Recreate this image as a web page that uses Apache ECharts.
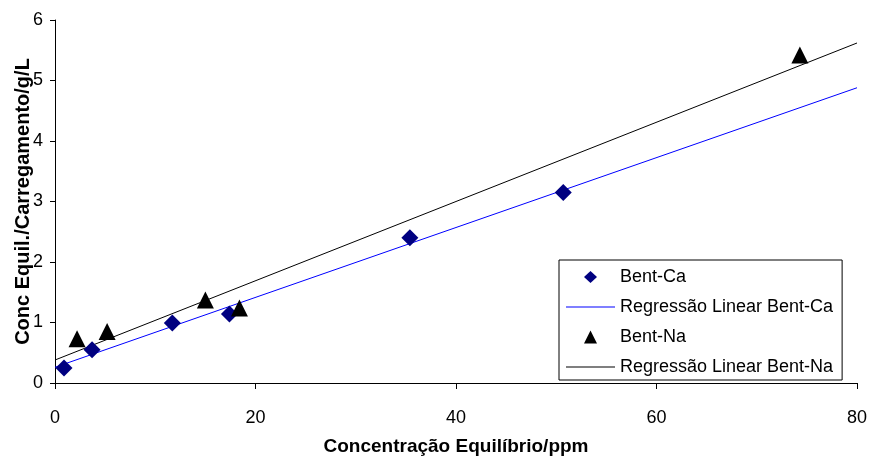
<!DOCTYPE html>
<html>
<head>
<meta charset="utf-8">
<script src="https://cdn.jsdelivr.net/npm/echarts@6/dist/echarts.min.js"></script>
<style>html,body{margin:0;padding:0;background:#fff;}#c{width:869px;height:462px;}</style>
</head>
<body>
<div id="c"></div>
<script>
const xTicks = [0, 20, 40, 60, 80];
const yTicks = [0, 1, 2, 3, 4, 5, 6];
const caX = [0.9, 3.7, 11.7, 17.4, 35.4, 50.7];
const caY = [0.25, 0.55, 0.99, 1.14, 2.40, 3.15];
const naX = [2.2, 5.2, 15.0, 18.4, 74.3];
const naY = [0.73, 0.85, 1.37, 1.24, 5.42];
const caLineX = [0, 80];
const caLineY = [0.26, 4.88];
const naLineX = [0, 80];
const naLineY = [0.38, 5.62];
const names = ['Bent-Ca', 'Regressão Linear Bent-Ca', 'Bent-Na', 'Regressão Linear Bent-Na'];
const colors = ['#000080', '#0000FF', '#000000', '#000000'];

const zip = (a, b) => a.map((v, i) => [v, b[i]]);
const font = 'Arial, "Liberation Sans", sans-serif';
// legend marker icons drawn inside a fixed 49x14 box (corner move-tos keep the box)
const box = 'path://M0,0M49,14';
const diamondIcon = box + 'M24.5,1L31,7L24.5,13L18,7Z';
const triangleIcon = box + 'M24.5,0.5L31,13.5L18,13.5Z';
const lineIcon = 'path://M0,0H49V1H0Z';

const chart = echarts.init(document.getElementById('c'), null, {renderer: 'canvas'});
chart.setOption({
  animation: false,
  backgroundColor: '#fff',
  grid: {left: 55, right: 12, top: 20, bottom: 79, containLabel: false, outerBoundsMode: 'none'},
  xAxis: {
    type: 'value', min: xTicks[0], max: xTicks[xTicks.length - 1], interval: 20,
    name: 'Concentração Equilíbrio/ppm', nameLocation: 'middle', nameGap: 54, nameMoveOverlap: false,
    nameTextStyle: {fontFamily: font, fontSize: 19, fontWeight: 'bold', color: '#000'},
    axisLine: {lineStyle: {color: '#000', width: 1}},
    axisTick: {show: true, length: 6, lineStyle: {color: '#000'}},
    axisLabel: {fontFamily: font, fontSize: 18, color: '#000', margin: 26},
    splitLine: {show: false}
  },
  yAxis: {
    type: 'value', min: yTicks[0], max: yTicks[yTicks.length - 1], interval: 1,
    name: 'Conc Equil./Carregamento/g/L', nameLocation: 'middle', nameGap: 22, nameMoveOverlap: false,
    nameTextStyle: {fontFamily: font, fontSize: 20, fontWeight: 'bold', color: '#000'},
    axisLine: {show: true, lineStyle: {color: '#000', width: 1}},
    axisTick: {show: true, length: 5, lineStyle: {color: '#000'}},
    axisLabel: {fontFamily: font, fontSize: 18, color: '#000', margin: 12},
    splitLine: {show: false}
  },
  legend: {
    orient: 'vertical', left: 559, top: 260,
    itemWidth: 49, itemHeight: 14, itemGap: 10,
    padding: [7, 9, 3, 7],
    borderColor: '#000', borderWidth: 1, backgroundColor: '#fff',
    textStyle: {fontFamily: font, fontSize: 18, color: '#000', lineHeight: 20},
    data: [
      {name: names[0], icon: diamondIcon, itemStyle: {color: colors[0]}},
      {name: names[1], icon: lineIcon, itemStyle: {color: colors[1]}},
      {name: names[2], icon: triangleIcon, itemStyle: {color: colors[2]}},
      {name: names[3], icon: lineIcon, itemStyle: {color: colors[3]}}
    ]
  },
  series: [
    {name: names[1], type: 'line', data: zip(caLineX, caLineY), symbol: 'none', showSymbol: false,
     lineStyle: {color: colors[1], width: 1}, itemStyle: {color: colors[1]}, z: 2},
    {name: names[3], type: 'line', data: zip(naLineX, naLineY), symbol: 'none', showSymbol: false,
     lineStyle: {color: colors[3], width: 1}, itemStyle: {color: colors[3]}, z: 2},
    {name: names[0], type: 'scatter', data: zip(caX, caY), symbol: 'diamond', symbolSize: 17,
     itemStyle: {color: colors[0], opacity: 1}, z: 3},
    {name: names[2], type: 'scatter', data: zip(naX, naY), symbol: 'triangle', symbolSize: 17,
     itemStyle: {color: colors[2], opacity: 1}, z: 4}
  ]
});
</script>
</body>
</html>
